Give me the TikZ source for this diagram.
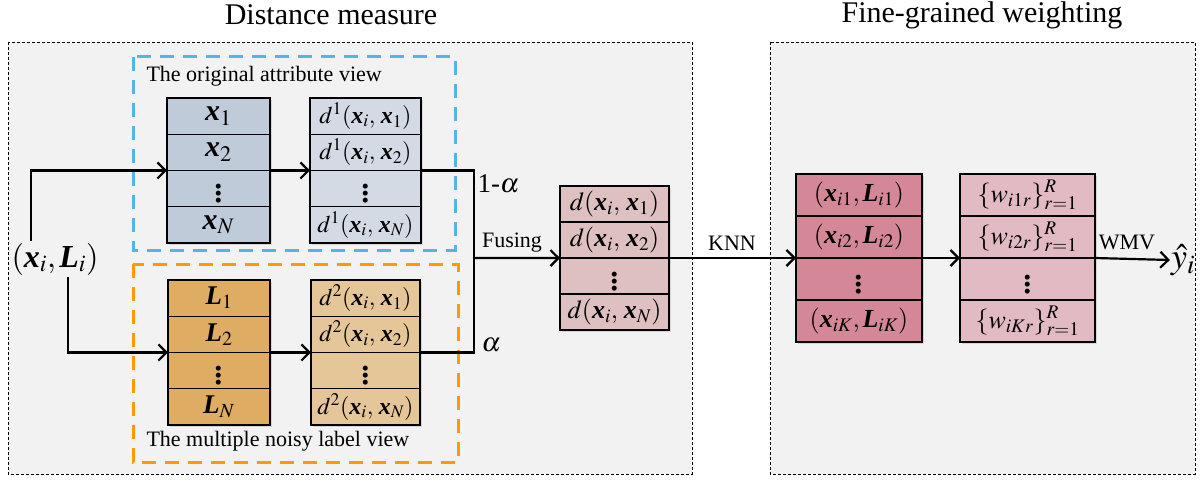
\documentclass[tikz,border=0pt]{standalone}
\usepackage{amsmath}
\usepackage{mathptmx}
\usepackage{fontspec}
\setmainfont{Liberation Serif}
\usepackage{tikz}
\usetikzlibrary{arrows.meta,positioning,shadows}
\definecolor{panelgray}{RGB}{242,242,242}
\definecolor{viewblue}{RGB}{85,180,230}
\definecolor{vieworange}{RGB}{255,153,0}
\definecolor{attrfill}{RGB}{192,203,217}
\definecolor{dafill}{RGB}{212,218,228}
\definecolor{labfill}{RGB}{222,172,98}
\definecolor{dbfill}{RGB}{229,198,152}
\definecolor{fusefill}{RGB}{222,192,192}
\definecolor{knnfill}{RGB}{212,135,150}
\definecolor{wfill}{RGB}{226,186,196}
\newcommand{\bx}{\text{\bfseries\itshape x}}
\newcommand{\bL}{\text{\bfseries\itshape L}}
\newcommand{\vd}{\scalebox{1.75}{\fontsize{24}{26}\selectfont$\vdots$}}

\begin{document}
\begin{tikzpicture}[x=1pt,y=-1pt]
  % cells of the stacked columns
  \tikzset{cell/.style={draw,line width=1.3pt,outer sep=0pt,inner sep=0pt,minimum height=36.25pt,
      font=\fontsize{24}{27}\selectfont,drop shadow={shadow xshift=2pt,shadow yshift=-2pt,opacity=.25}},
    xcell/.style={cell,fill=attrfill,minimum width=103pt,font=\fontsize{30}{33}\selectfont},
    dacell/.style={cell,fill=dafill,minimum width=111pt},
    lcell/.style={cell,fill=labfill,minimum width=102pt,font=\fontsize{27}{30}\selectfont},
    dbcell/.style={cell,fill=dbfill,minimum width=109pt},
    ddcell/.style={cell,fill=fusefill,minimum width=109pt,minimum height=36pt,font=\fontsize{26}{29}\selectfont},
    kcell/.style={cell,fill=knnfill,minimum width=126pt,minimum height=42pt,font=\fontsize{26}{29}\selectfont},
    wcell/.style={cell,fill=wfill,minimum width=135pt,minimum height=42pt,font=\fontsize{26}{29}\selectfont},
    panel/.style={draw,line width=0.8pt,dash pattern=on 3pt off 2pt,fill=panelgray},
    view/.style={line width=3pt,dash pattern=on 14pt off 9pt},
    line/.style={line width=2.2pt},
    arr/.style={line,-{Straight Barb[length=8pt,width=16pt]}},
    lbl/.style={font=\fontsize{22}{25}\selectfont,inner sep=1pt}}
  \useasboundingbox (0,0) rectangle (1204,481);

  % panels and titles
  \draw[panel] (8,42) rectangle (692,474);
  \draw[panel] (770,42) rectangle (1195,474);
  \node[font=\fontsize{30}{34}\selectfont] (t1) at (331,15) {Distance measure};
  \node[font=\fontsize{30}{34}\selectfont] (t2) at (982,15) {Fine-grained weighting};

  % the two views
  \draw[view,viewblue] (133,57) rectangle (455,250);
  \draw[view,vieworange] (133,264) rectangle (458,462);
  \node[anchor=west,font=\fontsize{22}{25}\selectfont] (v1) at (143,76) {The original attribute view};
  \node[anchor=west,font=\fontsize{22}{25}\selectfont] (v2) at (143,441) {The multiple noisy label view};

  % attribute view
  \node[xcell] (x1) at (218.5,116.1) {$\bx_1$};
  \node[xcell,below=0pt of x1] (x2) {$\bx_2$};
  \node[xcell,below=0pt of x2] (x3) {\vd};
  \node[xcell,below=0pt of x3] (x4) {$\bx_N$};
  \node[dacell] (da1) at (365.5,116.1) {$d^1(\bx_i,\,\bx_1)$};
  \node[dacell,below=0pt of da1] (da2) {$d^1(\bx_i,\,\bx_2)$};
  \node[dacell,below=0pt of da2] (da3) {\vd};
  \node[dacell,below=0pt of da3] (da4) {$d^1(\bx_i,\,\bx_N)$};

  % label view
  \node[lcell] (L1) at (219,298.1) {$\bL_1$};
  \node[lcell,below=0pt of L1] (L2) {$\bL_2$};
  \node[lcell,below=0pt of L2] (L3) {\vd};
  \node[lcell,below=0pt of L3] (L4) {$\bL_N$};
  \node[dbcell] (db1) at (365.5,298.1) {$d^2(\bx_i,\,\bx_1)$};
  \node[dbcell,below=0pt of db1] (db2) {$d^2(\bx_i,\,\bx_2)$};
  \node[dbcell,below=0pt of db2] (db3) {\vd};
  \node[dbcell,below=0pt of db3] (db4) {$d^2(\bx_i,\,\bx_N)$};

  % fused distances
  \node[ddcell] (dd1) at (614.5,204) {$d(\bx_i,\,\bx_1)$};
  \node[ddcell,below=0pt of dd1] (dd2) {$d(\bx_i,\,\bx_2)$};
  \node[ddcell,below=0pt of dd2] (dd3) {\vd};
  \node[ddcell,below=0pt of dd3] (dd4) {$d(\bx_i,\,\bx_N)$};

  % neighbours and weights
  \node[kcell] (k1) at (859,195) {$(\bx_{i1},\bL_{i1})$};
  \node[kcell,below=0pt of k1] (k2) {$(\bx_{i2},\bL_{i2})$};
  \node[kcell,below=0pt of k2] (k3) {\vd};
  \node[kcell,below=0pt of k3] (k4) {$(\bx_{iK},\bL_{iK})$};
  \node[wcell] (w1) at (1027.5,195) {$\{w_{i1r}\}_{r=1}^{R}$};
  \node[wcell,below=0pt of w1] (w2) {$\{w_{i2r}\}_{r=1}^{R}$};
  \node[wcell,below=0pt of w2] (w3) {\vd};
  \node[wcell,below=0pt of w3] (w4) {$\{w_{iKr}\}_{r=1}^{R}$};

  % input and output
  \node[font=\fontsize{32}{36}\selectfont,inner sep=2pt] (xl) at (55,259) {$(\bx_i,\bL_i)$};
  \node[font=\fontsize{36}{40}\selectfont,inner sep=1pt] (yh) at (1183,260) {$\hat{y}_i$};
  \coordinate (fj) at (474,258.1);

  % connectors
  \draw[arr] ([xshift=-24pt]xl.north) |- (x3.north west);
  \draw[arr] ([xshift=13pt]xl.south) |- (L3.north west);
  \draw[arr] (x3.north east) -- (da3.north west);
  \draw[arr] (L3.north east) -- (db3.north west);
  \draw[line] (da3.north east) -| (fj);
  \draw[line] (db3.north east) -| (fj);
  \draw[arr] (fj) -- (dd3.north west);
  \draw[arr] (dd3.north east) -- (k3.north west);
  \draw[arr] (k3.north east) -- (w3.north west);
  \draw[arr] (w3.north east) -- (yh.west);

  % connector labels
  \node[anchor=west,font=\fontsize{27}{30}\selectfont] (la) at (474,184) {1-$\alpha$};
  \node[anchor=west,font=\fontsize{27}{30}\selectfont] (lb) at (478,345) {$\alpha$};
  \node[lbl] (lf) at (512,243) {Fusing};
  \node[lbl] (lk) at (732,243) {KNN};
  \node[lbl] (lw) at (1127,242) {WMV};
\end{tikzpicture}
\end{document}
